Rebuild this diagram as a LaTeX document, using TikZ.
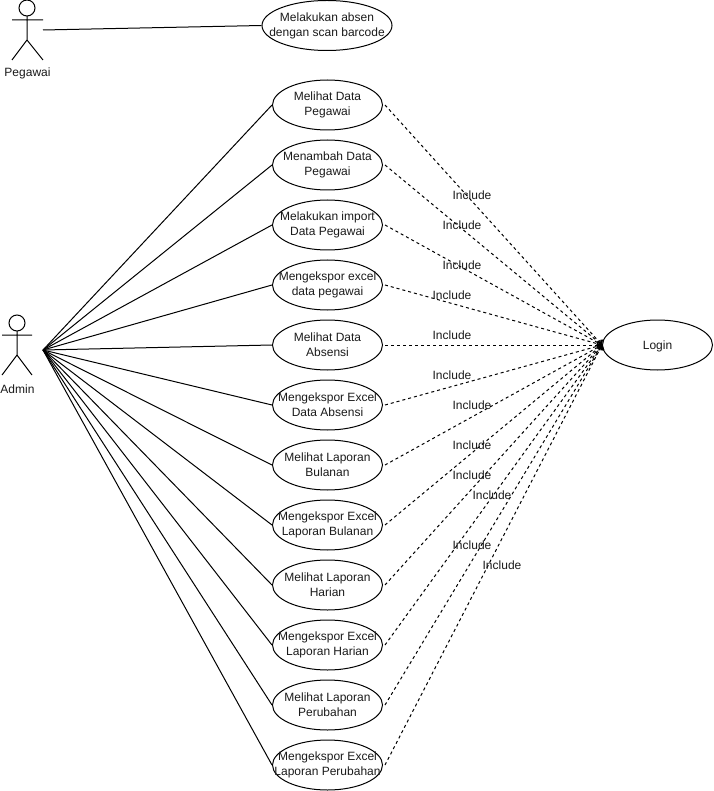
\documentclass[tikz,border=0pt]{standalone}
\usepackage{fontspec}
\setmainfont{Liberation Sans}
\usetikzlibrary{arrows.meta,shapes.geometric}
\definecolor{txt}{HTML}{1A1A1A}
\tikzset{
 uc/.style={draw=black,line width=1pt,ellipse,minimum width=110pt,minimum height=50pt,inner xsep=-40pt,inner ysep=-8pt,align=center,font=\fontsize{12}{15}\selectfont,text=txt,execute at begin node={\rule{0pt}{11.5pt}}},
 ucw/.style={uc,minimum width=130pt},
 solidl/.style={draw=black,line width=1pt},
 incl/.style={draw=black,line width=1pt,dash pattern=on 3pt off 3pt,-{Straight Barb[length=3pt,width=8pt]}},
 lbl/.style={font=\fontsize{12}{15}\selectfont,text=txt,inner sep=0pt},
 limb/.style={draw=black,line width=1pt},
}
\begin{document}
\begin{tikzpicture}[x=1pt,y=-1pt]
\useasboundingbox (0,0) rectangle (713,791);
% actors
\draw[limb] (27,8) circle (8);
\draw[limb] (27,16) -- (27,40) (12,20) -- (43,20) (12,60) -- (27,40) -- (43,60);
\node[lbl] (pegawai) at (27.5,73.5) {Pegawai};
\draw[limb] (17,323) circle (8);
\draw[limb] (17,331) -- (17,355) (2,335) -- (32,335) (2,375) -- (17,355) -- (32,375);
\node[lbl] (admin) at (17.5,389) {Admin};
\coordinate (pegawaiend) at (43,30);
\coordinate (adminend) at (43,350);
% use cases
\node[ucw] (absen) at (327,25.5) {Melakukan absen\\dengan scan barcode};
\node[uc] (u1) at (327.5,105) {Melihat Data\\Pegawai};
\node[uc] (u2) at (327.5,165) {Menambah Data\\Pegawai};
\node[uc] (u3) at (327.5,225) {Melakukan import\\Data Pegawai};
\node[uc] (u4) at (327.5,285) {Mengekspor excel\\data pegawai};
\node[uc] (u5) at (327.5,345) {Melihat Data\\Absensi};
\node[uc] (u6) at (327.5,405) {Mengekspor Excel\\Data Absensi};
\node[uc] (u7) at (327.5,465) {Melihat Laporan\\Bulanan};
\node[uc] (u8) at (327.5,525) {Mengekspor Excel\\Laporan Bulanan};
\node[uc] (u9) at (327.5,585) {Melihat Laporan\\Harian};
\node[uc] (u10) at (327.5,645) {Mengekspor Excel\\Laporan Harian};
\node[uc] (u11) at (327.5,705) {Melihat Laporan\\Perubahan};
\node[uc] (u12) at (327.5,765) {Mengekspor Excel\\Laporan Perubahan};
\node[uc] (login) at (657.5,345) {Login};
% connectors
\draw[solidl] (pegawaiend) -- (absen.west);
\foreach \i in {1,...,12}{
  \draw[solidl] (adminend) -- (u\i.west);
  \draw[incl] (u\i.east) ++(2,0) -- (login.west);
}
% labels
\node[lbl] at (472,195) {Include};
\node[lbl] at (462,225) {Include};
\node[lbl] at (462,265) {Include};
\node[lbl] at (452,295) {Include};
\node[lbl] at (452,335) {Include};
\node[lbl] at (452,375) {Include};
\node[lbl] at (472,405) {Include};
\node[lbl] at (472,445) {Include};
\node[lbl] at (472,475) {Include};
\node[lbl] at (492,495) {Include};
\node[lbl] at (472,545) {Include};
\node[lbl] at (502,565) {Include};
\end{tikzpicture}
\end{document}
